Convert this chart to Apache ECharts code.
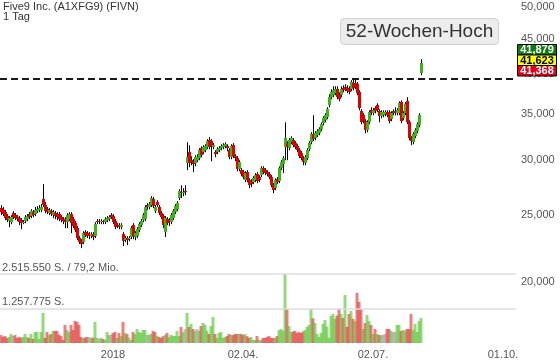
<!DOCTYPE html>
<html><head><meta charset="utf-8">
<script src="https://cdn.jsdelivr.net/npm/echarts@6/dist/echarts.min.js"></script>
<style>html,body{margin:0;padding:0;background:#fff}#c{width:560px;height:363px}</style>
</head><body><div id="c"></div>
<script>
// ---------- DATA ----------
const titleText = 'Five9 Inc. (A1XFG9) (FIVN)';
const periodText = '1 Tag';
const startDate = '2017-10-13';
const slotCount = 258;
const tickDates = ['2018-01-01', '2018-04-02', '2018-07-02', '2018-10-01'];
const tickLabels = ['2018', '02.04.', '02.07.', '01.10.'];
const priceTicks = [20, 25, 30, 35, 40, 45, 50];
const high52 = 39.35;
const high52Label = '52-Wochen-Hoch';
const quoteValues = ['41,879', '41,623', '41,368'];
const volumeLevels = [1257775, 2515550];
const volumeLevelLabels = ['1.257.775 S.', '2.515.550 S. / 79,2 Mio.'];

const opens = [
25.58,25.41,25.24,24.91,24.49,24.41,25.16,24.99,24.82,24.74,
24.58,24.41,24.49,24.66,25.07,24.91,25.24,25.07,25.33,25.41,
25.41,26.36,25.84,25.49,25.16,25.33,24.99,25.16,25.07,25.07,
24.82,24.66,24.66,24.41,24.66,25.07,24.66,24.33,23.93,23.15,
22.92,22.84,23.61,23.54,23.46,23.30,23.46,23.30,24.49,24.49,
24.41,24.49,24.41,24.58,24.66,24.99,24.91,24.49,24.17,24.17,
24.01,23.46,22.99,23.15,23.07,23.23,24.17,23.23,23.30,23.77,
24.17,24.58,24.66,25.84,25.67,25.84,26.36,25.33,26.10,25.67,
25.16,24.91,23.61,24.66,24.58,24.41,24.74,25.24,25.49,26.45,
26.98,26.89,27.07,29.71,30.82,30.01,29.81,29.71,30.01,30.21,
31.23,30.82,31.02,31.34,32.07,31.97,31.34,30.82,30.82,31.02,
31.23,31.34,31.44,31.44,31.02,30.31,31.55,30.41,30.21,29.12,
29.03,28.83,28.08,28.83,28.08,27.98,27.89,28.08,28.64,28.36,
28.55,29.22,29.03,28.83,28.64,28.36,27.61,27.34,28.17,27.98,
29.22,29.61,31.34,31.76,31.23,31.86,32.07,31.76,31.44,31.02,
30.71,30.21,29.71,30.21,31.13,31.86,32.72,32.29,32.61,32.83,
33.27,33.94,34.28,34.63,36.04,37.01,37.26,37.51,38.01,37.26,
37.26,38.14,38.27,38.14,38.01,38.01,38.78,38.78,38.65,37.63,
35.33,34.86,34.17,33.16,34.05,35.44,35.09,35.68,36.04,35.33,
34.74,34.86,34.97,35.21,35.21,34.40,35.33,35.33,35.09,35.09,
36.40,34.51,35.09,36.52,34.05,32.29,31.86,32.50,33.05,33.71,
40.10];
const closes = [
25.24,25.07,24.74,24.58,24.74,24.82,24.82,24.74,24.66,24.41,
24.33,24.41,24.82,24.91,24.82,25.33,24.99,25.41,25.49,25.58,
25.67,25.84,25.33,25.24,25.41,25.07,25.24,24.91,24.82,24.66,
24.58,24.49,24.41,24.99,25.07,24.33,24.09,23.77,23.15,22.84,
22.69,23.54,23.38,23.30,23.30,23.46,23.23,24.25,24.41,24.41,
24.49,24.41,24.66,24.74,24.82,24.82,24.41,24.01,24.09,24.01,
24.17,22.92,23.15,22.99,23.15,23.93,23.30,23.54,23.85,24.25,
24.49,24.99,25.67,25.67,25.92,26.45,25.75,25.67,25.84,25.16,
24.82,24.17,24.74,24.33,24.41,24.99,25.33,25.75,26.01,27.07,
26.89,26.98,26.98,30.31,29.71,29.81,29.61,30.31,30.31,31.02,
30.51,31.34,31.44,31.97,31.34,31.44,31.55,30.61,31.13,31.23,
31.44,31.55,31.65,31.23,30.31,31.44,30.41,30.21,29.12,29.81,
28.64,28.36,28.74,28.08,27.61,27.71,28.26,28.55,27.98,28.08,
29.22,28.83,28.74,28.64,28.36,27.61,27.16,28.08,27.89,29.22,
29.81,30.21,32.29,31.34,32.07,32.29,31.55,31.34,31.02,30.41,
30.21,29.81,30.31,31.02,31.76,32.72,32.18,32.83,33.05,33.27,
33.83,34.51,34.86,35.56,37.01,37.63,37.88,38.01,37.01,36.76,
38.01,37.88,38.01,37.76,37.63,38.91,38.14,38.27,37.51,35.68,
34.05,34.17,33.16,34.05,35.21,35.09,35.44,35.33,35.44,34.74,
35.21,35.21,35.21,34.86,34.17,35.09,35.09,35.09,35.44,36.28,
34.17,35.09,36.16,34.05,32.29,31.97,32.72,33.16,33.83,34.86,
41.46];
const lows = [
24.99,24.91,24.58,24.41,24.01,24.25,24.66,24.58,24.49,24.17,
23.85,24.25,24.33,24.49,24.66,24.74,24.82,24.91,25.16,25.24,
25.24,25.67,25.16,25.07,24.99,24.91,24.74,24.66,24.58,24.49,
24.41,24.25,23.93,23.93,24.49,23.54,23.93,23.61,22.99,22.69,
22.39,22.69,23.23,23.15,23.07,23.15,22.99,23.15,24.25,24.25,
24.25,24.25,24.25,24.41,24.49,24.66,24.25,23.85,23.93,23.85,
23.85,22.54,22.84,22.62,22.92,23.07,23.07,22.99,23.15,23.61,
24.01,24.41,24.49,25.41,25.49,25.67,25.58,25.16,25.67,24.99,
24.66,23.93,23.23,24.17,24.09,24.25,24.58,25.07,25.33,26.27,
26.45,26.62,26.71,29.03,29.32,29.51,28.83,29.41,29.81,30.01,
30.31,30.61,30.82,31.13,31.13,29.91,31.13,30.31,30.61,30.82,
31.02,31.13,31.23,30.92,30.11,30.11,30.21,29.91,28.93,28.93,
28.45,28.17,27.89,27.89,27.34,27.43,27.71,27.89,27.80,27.89,
28.36,28.64,28.55,28.45,28.17,27.43,26.89,27.16,27.71,27.80,
29.03,28.74,30.01,30.01,31.02,31.65,31.34,31.13,30.82,30.21,
30.01,29.51,29.51,30.01,30.92,31.65,31.97,32.07,32.40,32.61,
33.05,33.71,34.05,34.40,35.80,36.76,37.01,37.26,36.76,36.52,
37.01,37.63,37.76,37.51,37.38,37.76,37.88,38.01,37.26,35.44,
33.83,33.94,32.83,32.94,33.83,34.86,34.86,35.09,35.21,34.05,
34.51,34.63,34.74,34.63,33.94,34.17,34.86,34.86,34.86,34.86,
33.94,34.28,34.86,33.83,32.07,31.55,31.65,32.29,32.83,33.49,
39.83];
const highs = [
25.84,25.67,25.41,25.07,24.91,24.99,25.33,25.16,24.99,24.91,
24.74,24.58,24.99,25.07,25.24,25.49,25.41,25.67,25.75,25.84,
25.92,27.71,26.10,25.67,25.58,25.49,25.41,25.33,25.24,25.24,
24.99,24.82,24.82,25.16,25.24,25.24,24.82,24.49,24.09,23.30,
23.07,23.69,23.77,23.69,23.61,23.61,23.61,24.41,24.66,24.66,
24.66,24.58,24.82,24.91,24.99,25.16,25.07,24.66,24.33,24.33,
24.33,23.61,23.30,23.30,23.30,24.09,24.33,23.69,24.01,24.41,
24.66,25.16,25.84,26.01,26.10,26.62,26.54,25.84,26.27,25.84,
25.33,25.07,24.91,24.82,24.74,25.16,25.49,25.92,26.18,27.25,
27.61,27.34,27.61,31.86,31.55,30.41,30.11,30.51,30.61,31.23,
31.44,31.55,31.65,32.18,32.40,32.18,31.76,31.02,31.34,31.44,
31.65,31.76,31.86,31.65,31.23,31.65,31.76,30.61,30.41,30.01,
29.22,29.03,28.93,29.03,28.26,28.17,28.45,28.74,28.83,28.55,
29.41,29.41,29.22,29.03,28.83,28.55,27.80,28.26,28.36,29.41,
30.01,30.41,34.05,31.97,32.29,32.50,32.29,31.97,31.65,31.23,
30.92,30.41,30.51,31.23,31.97,32.94,34.86,33.05,33.27,33.49,
34.05,34.74,35.09,35.80,37.38,38.01,38.39,38.39,38.39,37.63,
38.39,38.52,38.65,38.52,38.39,39.17,39.43,39.30,38.91,37.88,
35.56,35.09,34.40,34.28,35.44,35.80,35.68,35.92,36.28,35.56,
35.44,35.44,35.44,35.44,35.44,35.33,35.56,35.80,35.68,36.52,
36.64,35.33,36.40,37.01,34.28,32.50,32.94,33.38,34.05,35.09,
42.02];
const volumes = [
290000,220000,255000,185000,220000,330000,255000,290000,185000,220000,
185000,220000,330000,220000,185000,330000,150000,400000,400000,150000,
400000,1100000,185000,400000,290000,330000,440000,440000,440000,300000,
255000,110000,660000,475000,400000,660000,475000,800000,770000,660000,
220000,185000,200000,220000,220000,185000,200000,770000,185000,150000,
185000,150000,110000,400000,290000,300000,365000,400000,185000,365000,
250000,770000,365000,330000,200000,110000,400000,330000,510000,400000,
365000,475000,475000,290000,300000,330000,440000,400000,255000,220000,
185000,250000,290000,365000,220000,290000,260000,255000,440000,255000,
585000,400000,500000,1100000,585000,700000,510000,440000,510000,450000,
620000,730000,660000,450000,330000,620000,950000,330000,185000,365000,
400000,185000,220000,250000,330000,290000,290000,330000,330000,330000,
330000,290000,330000,250000,185000,220000,110000,110000,255000,110000,
110000,185000,185000,220000,255000,185000,185000,185000,255000,475000,
510000,450000,2515550,1240000,620000,400000,420000,440000,365000,400000,
365000,420000,475000,585000,660000,1240000,900000,730000,330000,220000,
365000,700000,840000,600000,185000,990000,1060000,880000,1000000,1240000,
1060000,910000,1750000,585000,1060000,1170000,880000,800000,1830000,1500000,
1240000,510000,730000,1020000,800000,660000,330000,510000,330000,290000,
290000,300000,330000,510000,510000,440000,400000,400000,660000,660000,
440000,475000,450000,510000,510000,1060000,475000,700000,400000,800000,
910000];

// ---------- BUILD ----------
const categories = [];
(function () {
  const d = new Date(startDate + 'T00:00:00Z');
  while (categories.length < slotCount) {
    const wd = d.getUTCDay();
    if (wd !== 0 && wd !== 6) categories.push(d.toISOString().slice(0, 10));
    d.setUTCDate(d.getUTCDate() + 1);
  }
})();
const candleRows = opens.map((o, i) => [i, o, closes[i], lows[i], highs[i]]);

const FONT = 'Liberation Sans, Arial, sans-serif';
const UP = '#3cb414', DOWN = '#e00000';
const fmtPrice = v => Number(v).toFixed(3).replace('.', ',');

const chart = echarts.init(document.getElementById('c'), null, {renderer: 'canvas'});
chart.setOption({
  animation: false,
  backgroundColor: '#fff',
  textStyle: {fontFamily: FONT},
  title: {
    text: titleText + '\n' + periodText, left: 3, top: 2, padding: 0,
    textStyle: {fontSize: 11, fontWeight: 'normal', color: '#333', lineHeight: 10, fontFamily: FONT}
  },
  grid: [
    {left: 0, right: 44, top: 7, height: 275},
    {left: 0, right: 44, top: 274, height: 69}
  ],
  xAxis: [
    {type: 'category', gridIndex: 0, data: categories, show: false},
    {type: 'category', gridIndex: 1, data: categories,
     axisLine: {show: false}, axisTick: {show: false}, splitLine: {show: false},
     axisLabel: {
       color: '#555', fontSize: 11, fontFamily: FONT, margin: 6,
       interval: (idx, val) => tickDates.indexOf(val) >= 0,
       formatter: val => { const k = tickDates.indexOf(val); return k >= 0 ? tickLabels[k] : ''; }
     }}
  ],
  yAxis: [
    {type: 'log', logBase: 10, gridIndex: 0, position: 'right', min: 20, max: 50,
     axisLine: {show: false}, axisTick: {show: false}, splitLine: {show: false},
     axisLabel: {customValues: priceTicks, formatter: fmtPrice, color: '#555', fontSize: 11, fontFamily: FONT, margin: 5}},
    {type: 'value', gridIndex: 1, min: 0, max: volumeLevels[1], show: false, splitLine: {show: false}}
  ],
  series: [
    {
      type: 'custom', xAxisIndex: 0, yAxisIndex: 0, data: candleRows,
      encode: {x: 0, y: [1, 2, 3, 4]},
      renderItem: function (params, api) {
        const i = api.value(0);
        const po = api.coord([i, api.value(1)]);
        const pc = api.coord([i, api.value(2)]);
        const pl = api.coord([i, api.value(3)]);
        const ph = api.coord([i, api.value(4)]);
        const x = Math.floor(po[0]) + 0.5;
        const top = Math.round(Math.min(po[1], pc[1]));
        const h = Math.max(1, Math.round(Math.abs(po[1] - pc[1])));
        const col = api.value(2) > api.value(1) ? UP : (api.value(2) < api.value(1) ? DOWN : '#777');
        return {type: 'group', children: [
          {type: 'line', shape: {x1: x, y1: ph[1], x2: x, y2: pl[1]}, style: {stroke: '#000', lineWidth: 1}},
          {type: 'rect', shape: {x: x - 1.5, y: top, width: 3, height: h}, style: {fill: col}}
        ]};
      },
      markLine: {
        silent: true, symbol: ['none', 'none'], label: {show: false},
        lineStyle: {color: '#1a1a1a', type: [7, 4], width: 2},
        data: [{yAxis: high52}]
      },
      z: 3
    },
    {
      type: 'bar', xAxisIndex: 1, yAxisIndex: 1, data: volumes, barWidth: 3,
      itemStyle: {
        opacity: 0.6,
        color: p => {
          const i = p.dataIndex;
          const prev = i > 0 ? closes[i - 1] : opens[i];
          return closes[i] > prev ? '#4cc025' : (closes[i] < prev ? '#e02a2a' : '#9a9a9a');
        }
      },
      markLine: {
        silent: true, symbol: ['none', 'none'],
        lineStyle: {color: '#dcdcdc', type: 'solid', width: 1.5},
        label: {show: true, position: 'insideStartTop', distance: [2, 1], color: '#555', fontSize: 11, fontFamily: FONT,
          formatter: p => volumeLevelLabels[volumeLevels.indexOf(p.value)]},
        data: volumeLevels.map(v => ({yAxis: v}))
      }
    }
  ],
  graphic: [
    {type: 'rect', z: 100, shape: {x: 340.5, y: 18.5, width: 158, height: 26, r: 4}, style: {fill: '#ececec', stroke: '#d0d0d0', lineWidth: 1}},
    {type: 'text', z: 101, x: 419.5, y: 31.5, style: {text: high52Label, font: '19px ' + FONT, fill: '#333', align: 'center', verticalAlign: 'middle'}},
    {type: 'rect', z: 100, shape: {x: 517.5, y: 44.5, width: 39, height: 10.5}, style: {fill: '#127a12', stroke: '#000', lineWidth: 1}},
    {type: 'rect', z: 100, shape: {x: 517.5, y: 55, width: 39, height: 10.5}, style: {fill: '#ffff00', stroke: '#000', lineWidth: 1}},
    {type: 'rect', z: 100, shape: {x: 517.5, y: 65.5, width: 39, height: 10.5}, style: {fill: '#e0001a', stroke: '#000', lineWidth: 1}},
    {type: 'text', z: 101, x: 537, y: 50, style: {text: quoteValues[0], font: 'bold 11px ' + FONT, fill: '#fff', align: 'center', verticalAlign: 'middle'}},
    {type: 'text', z: 101, x: 537, y: 60.5, style: {text: quoteValues[1], font: 'bold 11px ' + FONT, fill: '#000', align: 'center', verticalAlign: 'middle'}},
    {type: 'text', z: 101, x: 537, y: 71, style: {text: quoteValues[2], font: 'bold 11px ' + FONT, fill: '#fff', align: 'center', verticalAlign: 'middle'}}
  ]
});
</script></body></html>
